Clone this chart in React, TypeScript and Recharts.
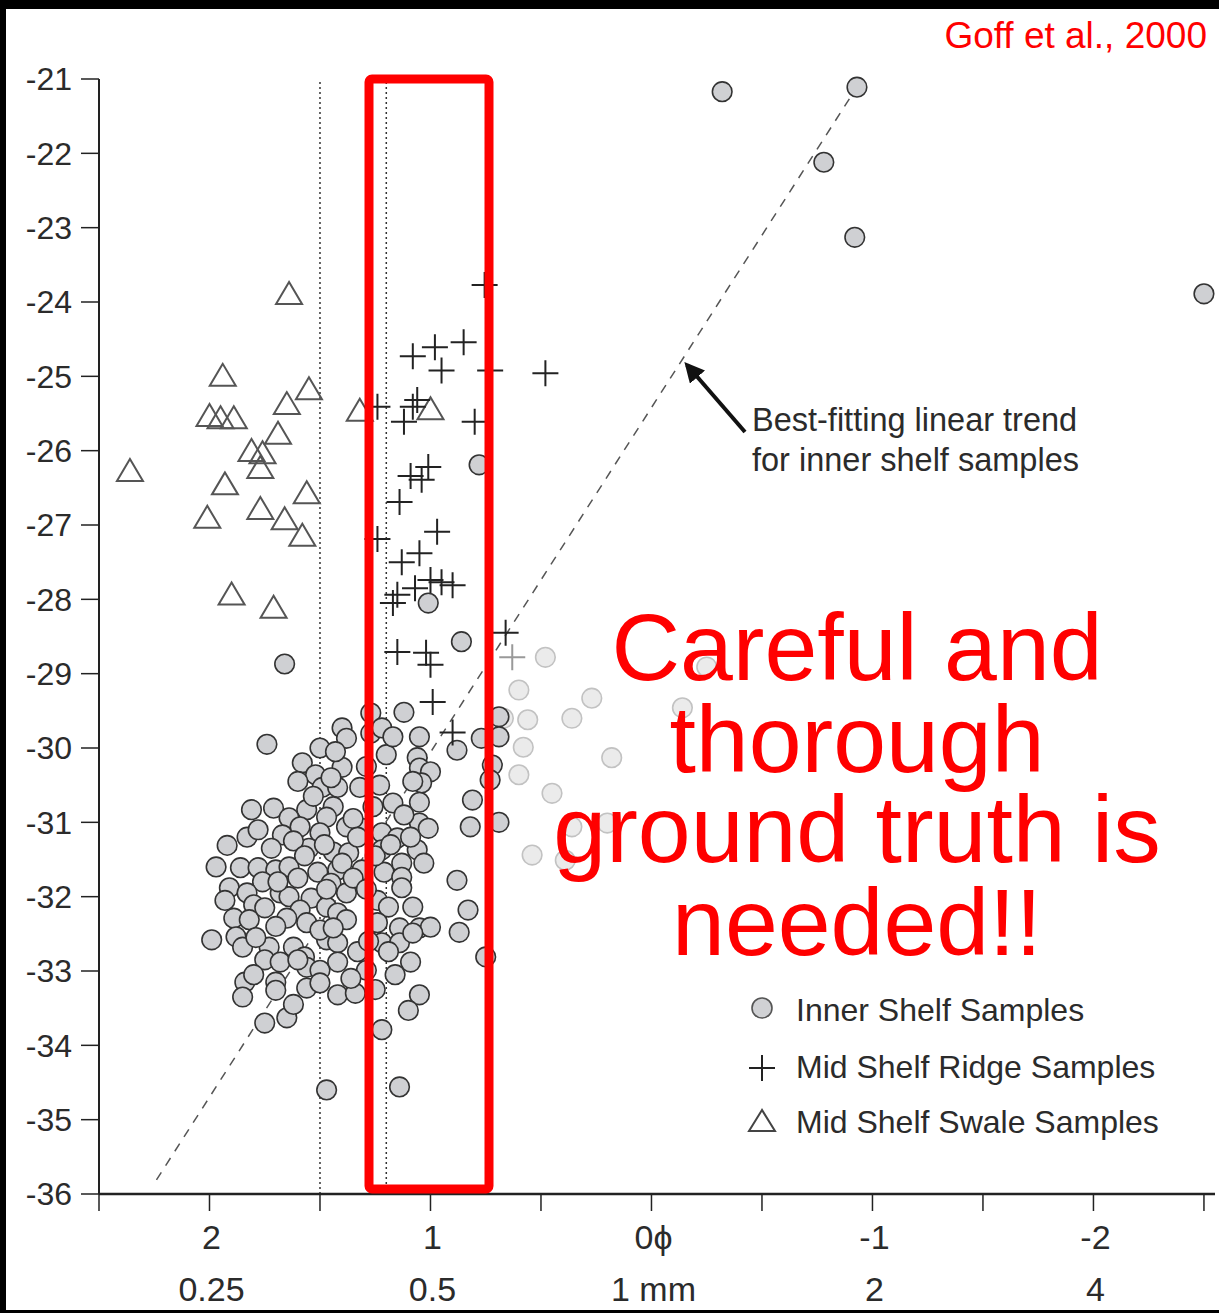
import React from "react";
import {
  ScatterChart,
  Scatter,
  XAxis,
  YAxis,
  ReferenceLine,
} from "recharts";

// phi grain size vs value
const innerShelf: [number, number][] = [
  [-0.32, -21.17], [-0.93, -21.11], [-0.78, -22.12], [-0.92, -23.13], [-2.5, -23.89],
  [0.78, -26.19], [1.01, -28.05], [0.86, -28.57], [1.66, -28.87], [1.74, -29.95],
  [1.27, -29.53], [1.12, -29.52], [1.4, -29.73], [1.38, -29.87], [1.27, -29.8],
  [1.22, -29.73], [1.05, -29.85], [0.88, -30.03], [1.2, -30.09], [1.06, -30.13],
  [1.58, -30.2], [1.52, -30.36], [1.4, -30.26], [1.05, -30.27], [1.0, -30.32],
  [1.04, -30.47], [1.49, -30.53], [1.42, -30.53], [1.32, -30.53], [1.23, -30.5],
  [0.69, -29.58], [0.77, -29.87], [0.69, -29.85], [0.72, -30.23], [0.73, -30.43],
  [1.05, -30.73], [0.81, -30.7], [1.17, -30.74], [1.26, -30.79], [1.81, -30.83],
  [1.71, -30.81], [1.56, -30.83], [1.44, -30.79], [1.47, -30.93], [1.05, -31.01],
  [1.01, -31.08], [0.82, -31.06], [0.69, -31.0], [1.64, -30.94], [1.59, -31.06],
  [1.38, -31.06], [1.31, -31.08], [1.22, -31.14], [1.15, -31.21], [1.83, -31.2],
  [1.92, -31.31], [1.67, -31.17], [1.5, -31.14], [1.55, -31.35], [1.44, -31.4],
  [1.37, -31.41], [1.31, -31.64], [1.22, -31.37], [1.21, -31.67], [1.06, -31.37],
  [1.13, -31.55], [1.86, -31.61], [1.78, -31.61], [1.7, -31.64], [1.64, -31.6],
  [1.51, -31.67], [1.42, -31.64], [1.91, -31.88], [1.76, -31.8], [1.83, -31.95],
  [1.8, -32.11], [1.68, -31.95], [1.64, -32.0], [1.54, -32.02], [1.45, -31.82],
  [1.38, -31.95], [1.13, -31.74], [1.13, -31.88], [0.88, -31.78], [1.24, -32.05],
  [1.19, -32.14], [1.08, -32.14], [1.59, -32.18], [1.47, -32.14], [1.42, -32.22],
  [1.38, -32.31], [1.89, -32.29], [1.82, -32.31], [1.65, -32.29], [0.83, -32.18],
  [1.24, -32.35], [1.14, -32.42], [1.05, -32.42], [1.0, -32.41], [1.99, -32.58],
  [1.88, -32.54], [1.85, -32.68], [1.73, -32.68], [1.62, -32.68], [1.57, -32.81],
  [1.47, -32.58], [1.42, -32.62], [1.33, -32.74], [1.22, -32.62], [1.14, -32.62],
  [1.08, -32.49], [0.87, -32.48], [1.75, -32.85], [1.68, -32.88], [1.56, -32.95],
  [1.5, -32.99], [1.42, -32.88], [1.29, -32.99], [1.19, -32.74], [1.09, -32.88],
  [0.75, -32.81], [1.84, -33.15], [1.8, -33.05], [1.7, -33.15], [1.7, -33.26],
  [1.56, -33.23], [1.5, -33.16], [1.42, -33.32], [1.34, -33.3], [1.16, -33.05],
  [1.05, -33.32], [1.1, -33.53], [1.75, -33.7], [1.65, -33.63], [1.22, -33.79],
  [1.47, -34.6], [1.14, -34.56],
  [1.6, -30.45], [1.53, -30.65], [1.45, -30.4], [1.35, -30.95], [1.62, -31.25],
  [1.57, -31.45], [1.48, -31.3], [1.4, -31.55], [1.33, -31.2], [1.72, -31.35],
  [1.78, -31.1], [1.69, -31.8], [1.6, -31.75], [1.47, -31.9], [1.35, -31.75],
  [1.29, -31.9], [1.56, -32.35], [1.5, -32.45], [1.44, -32.42], [1.75, -32.15],
  [1.7, -32.4], [1.93, -32.05], [1.97, -31.6], [1.6, -32.85], [1.36, -33.1],
  [1.28, -32.6], [1.25, -31.45], [1.18, -31.3], [1.09, -31.2], [1.12, -30.9],
  [1.29, -30.25], [1.5, -30.0], [1.43, -30.05], [1.17, -29.85], [1.08, -30.45],
  [1.03, -31.55], [1.25, -33.25], [1.62, -33.45], [1.85, -33.35], [1.79, -32.55],
];

// points greyed out on the right of the box
const innerShelfFaded: [number, number][] = [
  [0.48, -28.78], [-0.25, -28.91], [0.6, -29.22], [0.27, -29.33], [-0.14, -29.46],
  [0.56, -29.62], [0.36, -29.6], [0.67, -29.6], [0.58, -29.99], [0.18, -30.13],
  [0.6, -30.36], [0.45, -30.61], [0.36, -31.06], [0.2, -31.01], [0.54, -31.44],
  [0.39, -31.51],
];

const midShelfRidge: [number, number][] = [
  [0.755, -23.77], [0.85, -24.54], [0.98, -24.61], [1.08, -24.73], [0.95, -24.92],
  [0.73, -24.92], [0.48, -24.96], [1.24, -25.41], [1.06, -25.32], [1.08, -25.41],
  [1.12, -25.61], [0.8, -25.61], [1.09, -26.34], [1.01, -26.22], [1.04, -26.39],
  [1.14, -26.69], [0.97, -27.09], [1.24, -27.19], [1.05, -27.38], [1.13, -27.5],
  [0.95, -27.77], [1.0, -27.74], [0.9, -27.81], [1.07, -27.85], [1.15, -27.94],
  [1.17, -28.05], [1.15, -28.71], [1.02, -28.72], [1.0, -28.88], [0.99, -29.38],
  [0.9, -29.79], [0.66, -28.45],
];
const midShelfRidgeFaded: [number, number][] = [[0.63, -28.78]];

const midShelfSwale: [number, number][] = [
  [1.64, -23.88], [1.94, -24.98], [1.55, -25.16], [2.0, -25.52], [1.95, -25.55],
  [1.89, -25.55], [1.65, -25.36], [1.69, -25.76], [1.81, -25.99], [1.76, -26.02],
  [1.77, -26.22], [2.36, -26.26], [1.93, -26.44], [1.56, -26.56], [2.01, -26.89],
  [1.77, -26.77], [1.66, -26.91], [1.58, -27.13], [1.9, -27.92], [1.71, -28.1],
  [1.32, -25.45], [1.0, -25.43],
];

const xTicks = [2.5, 2, 1.5, 1, 0.5, 0, -0.5, -1, -1.5, -2, -2.5];
const phiLabelAt = [2, 1, 0, -1, -2];
const phiLabels = ["2", "1", "0ϕ", "-1", "-2"];
const mmLabels = ["0.25", "0.5", "1 mm", "2", "4"];
const yTicks = [-21, -22, -23, -24, -25, -26, -27, -28, -29, -30, -31, -32, -33, -34, -35, -36];
const dottedLines = [1.5, 1.2, 0.75];
const trendLine = [
  { x: 2.24, y: -35.81 },
  { x: -0.91, y: -21.2 },
];

const toPts = (a: [number, number][]) => a.map(([phi, d]) => ({ phi, d }));

const FONT = "'Liberation Sans', Arial, sans-serif";
const INK = "#2b2b2b";

const Dot = (p: any) => (
  <circle cx={p.cx} cy={p.cy} r={9.8} fill="#cfd0d3" stroke="#333" strokeWidth={1.6} />
);
const FadedDot = (p: any) => (
  <circle cx={p.cx} cy={p.cy} r={9.8} fill="#ebebeb" stroke="#c2c2c2" strokeWidth={1.6} />
);
const Plus = (p: any) => (
  <path
    d={`M${p.cx - 13},${p.cy}H${p.cx + 13}M${p.cx},${p.cy - 13}V${p.cy + 13}`}
    stroke="#222"
    strokeWidth={2}
    fill="none"
  />
);
const FadedPlus = (p: any) => (
  <path
    d={`M${p.cx - 13},${p.cy}H${p.cx + 13}M${p.cx},${p.cy - 13}V${p.cy + 13}`}
    stroke="#999"
    strokeWidth={2}
    fill="none"
  />
);
const Tri = (p: any) => (
  <path
    d={`M${p.cx},${p.cy - 11}L${p.cx - 13},${p.cy + 11}L${p.cx + 13},${p.cy + 11}Z`}
    stroke="#555"
    strokeWidth={2}
    fill="none"
  />
);

const XTick = (props: any) => {
  const { x, y, payload } = props;
  const i = phiLabelAt.indexOf(payload.value);
  if (i < 0) return null;
  return (
    <g>
      <text x={x + 2} y={y + 38} textAnchor="middle" fontSize={34} fontFamily={FONT} fill={INK}>
        {phiLabels[i]}
      </text>
      <text x={x + 2} y={y + 90} textAnchor="middle" fontSize={34} fontFamily={FONT} fill={INK}>
        {mmLabels[i]}
      </text>
    </g>
  );
};

export default function App() {
  return (
    <div
      style={{
        position: "absolute",
        left: 0,
        top: 0,
        width: 1219,
        height: 1313,
        background: "#fff",
        overflow: "hidden",
      }}
    >
      <ScatterChart
        width={1219}
        height={1313}
        margin={{ top: 79, right: 4, bottom: 0, left: 0 }}
      >
        <XAxis
          type="number"
          dataKey="phi"
          domain={[-2.55, 2.5]}
          reversed
          ticks={xTicks}
          interval={0}
          tickSize={17}
          tickMargin={0}
          height={119}
          axisLine={{ stroke: "#222", strokeWidth: 2.5 }}
          tickLine={{ stroke: "#222", strokeWidth: 1.5 }}
          tick={<XTick />}
        />
        <YAxis
          type="number"
          dataKey="d"
          domain={[-36, -21]}
          ticks={yTicks}
          interval={0}
          width={99}
          tickSize={18}
          tickMargin={9}
          axisLine={{ stroke: "#222", strokeWidth: 2 }}
          tickLine={{ stroke: "#222", strokeWidth: 1.5 }}
          tick={{ fill: INK, fontSize: 32, fontFamily: FONT }}
        />
        {dottedLines.map((v) => (
          <ReferenceLine
            key={v}
            x={v}
            stroke="#333"
            strokeWidth={1.5}
            strokeDasharray="2 3"
          />
        ))}
        <ReferenceLine
          segment={trendLine}
          stroke="#555"
          strokeWidth={1.5}
          strokeDasharray="9 8"
        />
        <Scatter data={toPts(midShelfSwale)} shape={Tri} isAnimationActive={false} />
        <Scatter data={toPts(innerShelfFaded)} shape={FadedDot} isAnimationActive={false} />
        <Scatter data={toPts(innerShelf)} shape={Dot} isAnimationActive={false} />
        <Scatter data={toPts(midShelfRidgeFaded)} shape={FadedPlus} isAnimationActive={false} />
        <Scatter data={toPts(midShelfRidge)} shape={Plus} isAnimationActive={false} />
      </ScatterChart>

      {/* annotations, legend and the red overlay */}
      <svg
        width={1219}
        height={1313}
        style={{ position: "absolute", left: 0, top: 0, pointerEvents: "none" }}
        fontFamily={FONT}
      >
        <defs>
          <marker id="head" viewBox="0 0 10 10" refX="8" refY="5" markerWidth="5" markerHeight="5" orient="auto">
            <path d="M0,0L10,5L0,10Z" fill="#111" />
          </marker>
        </defs>
        <line x1={745} y1={432} x2={687} y2={365} stroke="#111" strokeWidth={4} markerEnd="url(#head)" />
        <text x={752} y={431} fontSize={32.5} fill={INK}>Best-fitting linear trend</text>
        <text x={752} y={471} fontSize={32.5} fill={INK}>for inner shelf samples</text>

        <circle cx={762} cy={1008} r={10} fill="#d0d1d4" stroke="#555" strokeWidth={1.6} />
        <text x={796} y={1021} fontSize={32} fill={INK}>Inner Shelf Samples</text>
        <path d="M749,1068H775M762,1055V1081" stroke="#222" strokeWidth={2} />
        <text x={796} y={1078} fontSize={32} fill={INK}>Mid Shelf Ridge Samples</text>
        <path d="M762,1110L749,1131L775,1131Z" stroke="#444" strokeWidth={2} fill="none" />
        <text x={796} y={1133} fontSize={32} fill={INK}>Mid Shelf Swale Samples</text>

        <rect x={369} y={79} width={120} height={1110} rx={3} fill="none" stroke="#ff0000" strokeWidth={9} />
        <text x={1207} y={48} textAnchor="end" fontSize={37} fill="#ff0000">Goff et al., 2000</text>
        <g fontSize={95} fill="#ff0000" textAnchor="middle">
          <text x={857} y={680}>Careful and</text>
          <text x={857} y={772}>thorough</text>
          <text x={857} y={862}>ground truth is</text>
          <text x={857} y={955}>needed!!</text>
        </g>
      </svg>

      {/* black frame of the slide */}
      <div style={{ position: "absolute", left: 0, top: 0, width: 1219, height: 9, background: "#000" }} />
      <div style={{ position: "absolute", left: 0, top: 0, width: 6, height: 1313, background: "#000" }} />
      <div style={{ position: "absolute", left: 0, top: 1310, width: 1219, height: 3, background: "#000" }} />
    </div>
  );
}
